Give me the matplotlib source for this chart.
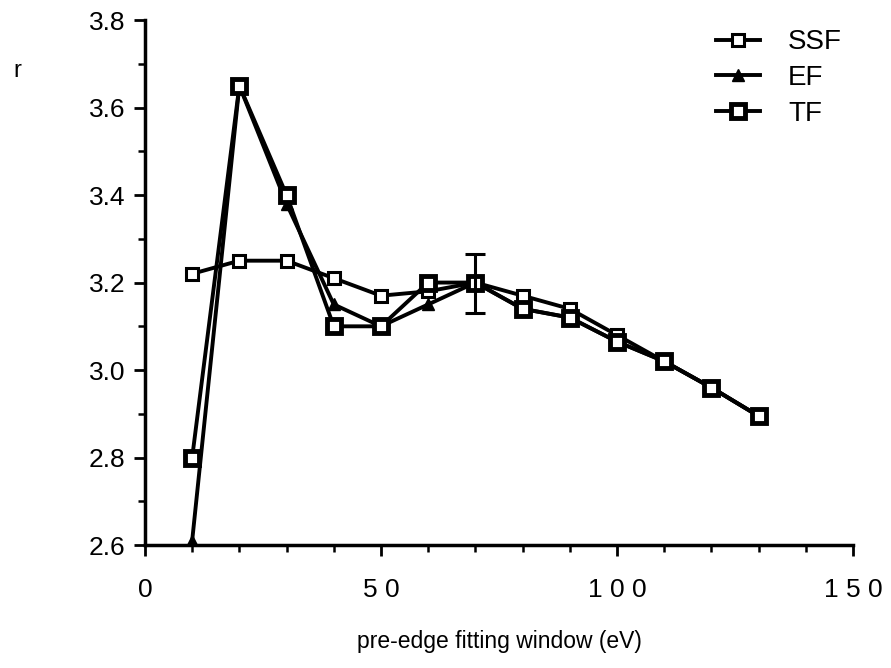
import matplotlib
matplotlib.use("Agg")
import matplotlib.pyplot as plt
from matplotlib.ticker import MultipleLocator

plt.rcParams['font.family'] = ['Liberation Sans', 'DejaVu Sans']

window = [10, 20, 30, 40, 50, 60, 70, 80, 90, 100, 110, 120, 130]
ssf = [3.22, 3.25, 3.25, 3.21, 3.17, 3.18, 3.20, 3.17, 3.14, 3.08, 3.02, 2.96, 2.895]
ef = [2.61, 3.65, 3.38, 3.15, 3.10, 3.15, 3.20, 3.14, 3.12, 3.065, 3.02, 2.96, 2.895]
tf = [2.80, 3.65, 3.40, 3.10, 3.10, 3.20, 3.20, 3.14, 3.12, 3.065, 3.02, 2.96, 2.895]
err_x = 70
err_y = 3.20
err_lo = 3.13
err_hi = 3.265
x_ticks = [0, 50, 100, 150]
x_labels = ["0", "5 0", "1 0 0", "1 5 0"]
y_ticks = [2.6, 2.8, 3.0, 3.2, 3.4, 3.6, 3.8]

fig = plt.figure(figsize=(8.91, 6.68), dpi=100)
ax = fig.add_axes([0.1627, 0.184, 0.7946, 0.786])

ax.plot(window, ssf, "k-", lw=2.8, marker="s", ms=9, mfc="white", mec="k", mew=2.2, label="SSF")
ax.plot(window, ef, "k-", lw=2.8, marker="^", ms=9, mfc="k", mec="k", label="EF")
ax.plot(window, tf, "k-", lw=2.8, marker="s", ms=10, mfc="white", mec="k", mew=3.5, label="TF")
ax.errorbar([err_x], [err_y], yerr=[[err_y - err_lo], [err_hi - err_y]], fmt="none",
            ecolor="k", elinewidth=2.2, capsize=7, capthick=2.2)

ax.set_xlim(0, 150)
ax.set_ylim(2.6, 3.8)
ax.set_xticks(x_ticks)
ax.set_xticklabels(x_labels)
ax.set_yticks(y_ticks)
ax.set_yticklabels(["%.1f" % v for v in y_ticks])
ax.xaxis.set_minor_locator(MultipleLocator(10))
ax.yaxis.set_minor_locator(MultipleLocator(0.1))
ax.tick_params(which="major", direction="out", length=8, width=2, labelsize=19, pad=6)
ax.tick_params(axis="x", which="major", pad=16)
ax.tick_params(which="minor", direction="out", length=5, width=1.8)

for s in ["top", "right"]:
    ax.spines[s].set_visible(False)
for s in ["left", "bottom"]:
    ax.spines[s].set_linewidth(2.5)

ax.set_xlabel("pre-edge fitting window (eV)", fontsize=16.5, labelpad=20)
fig.text(0.015, 0.885, "r", fontsize=17)

leg = ax.legend(loc="upper right", bbox_to_anchor=(1.02, 1.03), frameon=False, fontsize=20,
                handlelength=1.6, handletextpad=1.0, labelspacing=0.35)

fig.savefig("out.png", dpi=100)
